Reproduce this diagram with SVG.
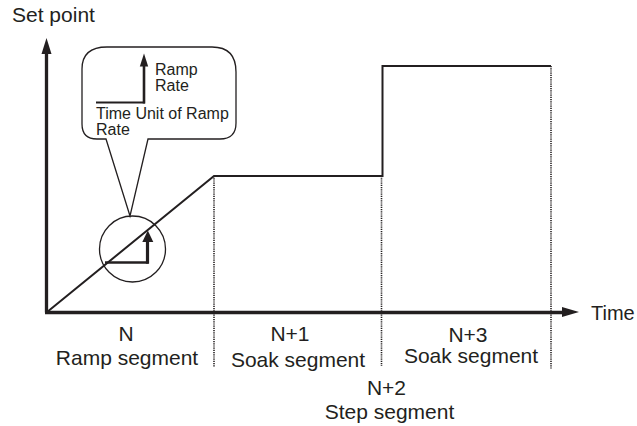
<svg xmlns="http://www.w3.org/2000/svg" width="637" height="426" viewBox="0 0 637 426">
<style>
.t{font-family:"Liberation Sans",Arial,sans-serif;fill:#231f20}
.big{font-size:21px}
.sm{font-size:16px}
.ax{stroke:#231f20;stroke-width:3.3;fill:none}
.ln{stroke:#231f20;stroke-width:2;fill:none}
.thin{stroke:#231f20;stroke-width:1.3;fill:#fff}
.dot{stroke:#231f20;stroke-width:1.6;stroke-dasharray:1.2 1;fill:none}
.ah{fill:#231f20}
</style>
<rect width="637" height="426" fill="#fff"/>
<g id="guides">
<line class="dot" x1="214" y1="176" x2="214" y2="367"/>
<line class="dot" x1="381.5" y1="176" x2="381.5" y2="366"/>
<line class="dot" x1="551" y1="66" x2="551" y2="369"/>
</g>
<g id="axes">
<line class="ax" x1="46.5" y1="312.5" x2="46.5" y2="52"/>
<polygon class="ah" points="46.5,38 41.5,54 51.5,54"/>
<line class="ax" x1="45" y1="312.5" x2="563" y2="312.5"/>
<polygon class="ah" points="579,312 562,307 562,317"/>
<text class="t big" x="12" y="22">Set point</text>
<text class="t" style="font-size:20px" x="591" y="319.5">Time</text>
</g>
<g id="profile">
<polyline class="ln" points="46.5,312.5 214,176 382.5,176 382.5,66 551,66"/>
</g>
<g id="zoom-circle">
<circle class="thin" cx="132.5" cy="249" r="33" style="fill:none"/>
<line class="ln" x1="105" y1="262.5" x2="148.5" y2="262.5" style="stroke-width:2.5"/>
<line class="ln" x1="147.5" y1="263.7" x2="147.5" y2="240" style="stroke-width:3.2"/>
<polygon class="ah" points="147.8,230.5 142.3,242 153.3,242"/>
</g>
<g id="callout">
<path class="thin" d="M148,139 L130,216 L106,139 L97,139 Q82,139 82,124 L82,69 Q82,47 107,47 L212,47 Q236,47 236,72 L236,123 Q236,139 220,139 Z"/>
<line class="ln" x1="96" y1="102.5" x2="145" y2="102.5"/>
<line class="ln" x1="144" y1="103.5" x2="144" y2="64" style="stroke-width:2.6"/>
<polygon class="ah" points="144,53.5 139.8,66.5 148.2,66.5"/>
<text class="t sm" x="155" y="75">Ramp</text>
<text class="t sm" x="155" y="91">Rate</text>
<text class="t sm" x="96" y="119">Time Unit of Ramp</text>
<text class="t sm" x="96" y="135">Rate</text>
</g>
<g id="labels" text-anchor="middle">
<text class="t big" x="126" y="341">N</text>
<text class="t big" x="127" y="365">Ramp segment</text>
<text class="t big" x="290" y="341">N+1</text>
<text class="t big" x="298" y="367">Soak segment</text>
<text class="t big" x="386.5" y="395">N+2</text>
<text class="t big" x="389.5" y="419">Step segment</text>
<text class="t big" x="468" y="341.5">N+3</text>
<text class="t big" x="471" y="363">Soak segment</text>
</g>
</svg>
